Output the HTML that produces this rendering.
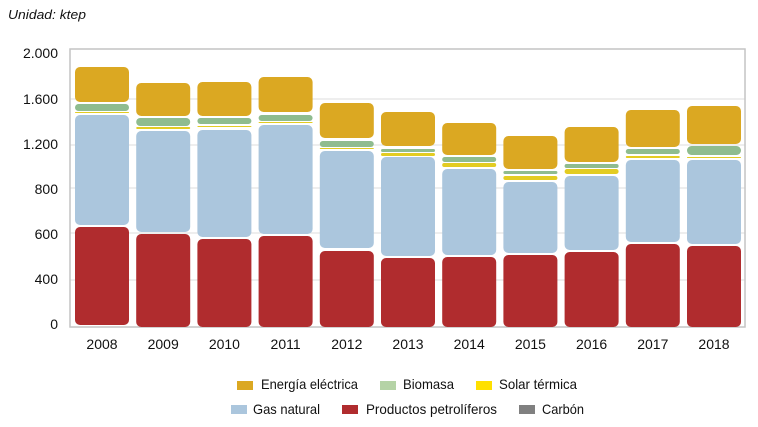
<!DOCTYPE html>
<html><head><meta charset="utf-8"><style>
html,body{margin:0;padding:0;background:#fff;width:758px;height:427px;overflow:hidden}
text{font-family:"Liberation Sans Narrow","Liberation Sans",sans-serif;fill:#111}
</style></head><body>
<svg id="s" width="758" height="427" xmlns="http://www.w3.org/2000/svg">
<text x="8" y="19" font-size="13" font-style="italic" textLength="78" lengthAdjust="spacingAndGlyphs">Unidad: ktep</text>
<g stroke="#ddd" stroke-width="1">
<line x1="70" y1="99" x2="745" y2="99"/><line x1="70" y1="145" x2="745" y2="145"/>
<line x1="70" y1="188" x2="745" y2="188"/><line x1="70" y1="233" x2="745" y2="233"/>
<line x1="70" y1="280" x2="745" y2="280"/>
</g>
<rect x="70" y="49" width="675" height="278" fill="none" stroke="#c4c4c4" stroke-width="1.5"/>
<g font-size="14" text-anchor="end">
<text x="58" y="58">2.000</text><text x="58" y="104">1.600</text><text x="58" y="149">1.200</text>
<text x="58" y="194">800</text><text x="58" y="239">600</text><text x="58" y="284">400</text><text x="58" y="329">0</text>
</g>
<g id="bars"></g>
<g font-size="14" text-anchor="middle" id="xl"></g>
<g font-size="14">
<rect x="237" y="381" width="16" height="9" fill="#dba822"/><text x="261" y="389" textLength="97" lengthAdjust="spacingAndGlyphs">Energía eléctrica</text>
<rect x="380" y="381" width="16" height="9" fill="#b5d3a6"/><text x="403" y="389" textLength="51" lengthAdjust="spacingAndGlyphs">Biomasa</text>
<rect x="476" y="381" width="16" height="9" fill="#ffe000"/><text x="499" y="389" textLength="78" lengthAdjust="spacingAndGlyphs">Solar térmica</text>
<rect x="231" y="405" width="16" height="9" fill="#abc6dd"/><text x="253" y="414" textLength="67" lengthAdjust="spacingAndGlyphs">Gas natural</text>
<rect x="342" y="405" width="16" height="9" fill="#b02c2e"/><text x="366" y="414" textLength="131" lengthAdjust="spacingAndGlyphs">Productos petrolíferos</text>
<rect x="519" y="405" width="16" height="9" fill="#808080"/><text x="542" y="414" textLength="42" lengthAdjust="spacingAndGlyphs">Carbón</text>
</g>
</svg>
<script>
var C={g:"#dba822",n:"#8fbc8f",y:"#e3cc22",b:"#abc6dd",r:"#b02c2e"};
var D=[
[[67,102],[104,111],[112,113],[115,225],[227,325]],
[[83,116],[118,126],[127,129],[131,232],[234,327]],
[[82,116],[118,124],[126,127],[130,237],[239,327]],
[[77,112],[115,121],[122,123],[125,234],[236,327]],
[[103,138],[141,147],[148,149],[151,248],[251,327]],
[[112,146],[149,152],[153,156],[157,256],[258,327]],
[[123,155],[157,162],[163,167],[169,255],[257,327]],
[[136,169],[171,174],[176,180],[182,253],[255,327]],
[[127,162],[164,168],[169,174],[176,250],[252,327]],
[[110,147],[149,154],[156,158],[160,242],[244,327]],
[[106,144],[146,155],[157,158],[160,244],[246,327]]];
var k=["g","n","y","b","r"],h="",t="";
D.forEach(function(b,i){var x=75+i*61.2;
b.forEach(function(s,j){var hh=s[1]-s[0];var r=Math.min(5,hh/2);
h+='<rect x="'+x.toFixed(1)+'" y="'+s[0]+'" width="54" height="'+hh+'" rx="'+r+'" fill="'+C[k[j]]+'"/>';});
t+='<text x="'+(x+27).toFixed(1)+'" y="349">'+(2008+i)+'</text>';});
document.getElementById("bars").innerHTML=h;document.getElementById("xl").innerHTML=t;
</script>
</body></html>
